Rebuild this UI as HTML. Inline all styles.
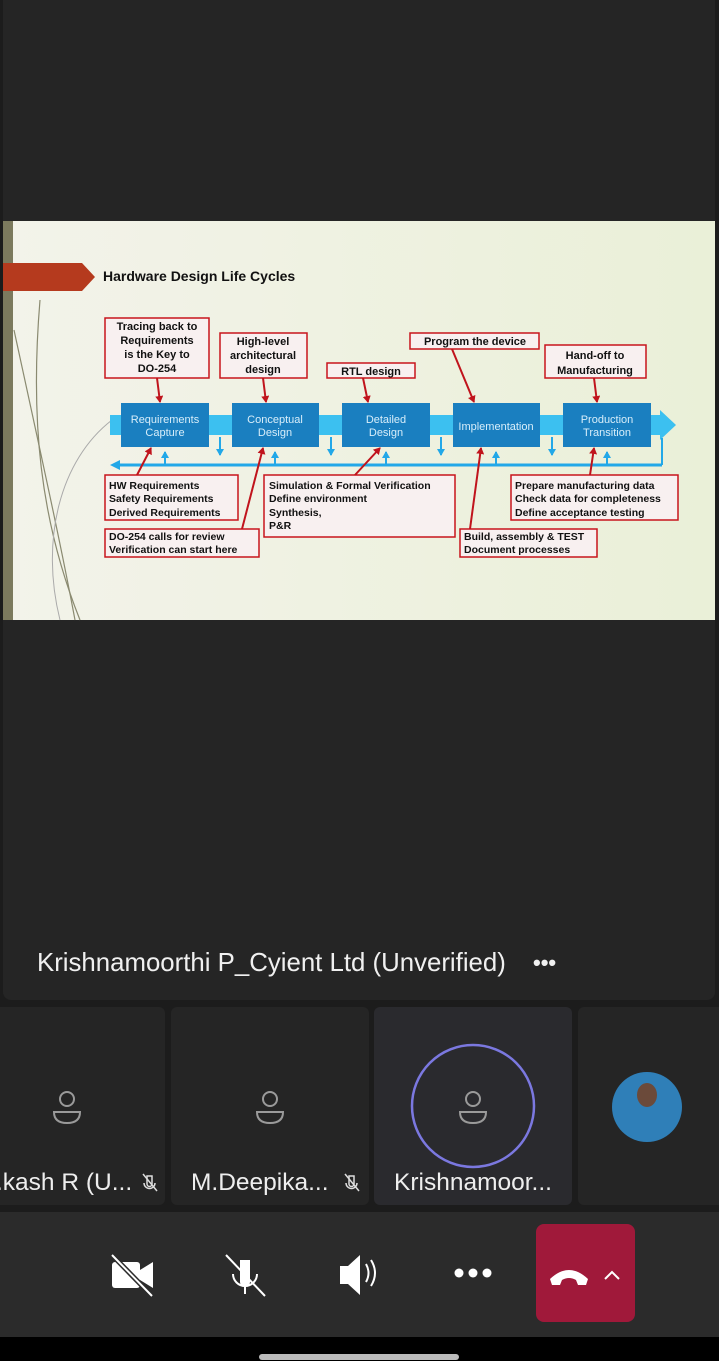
<!DOCTYPE html>
<html><head><meta charset="utf-8"><style>
*{margin:0;padding:0;box-sizing:border-box}
body{width:719px;height:1361px;background:#1c1c1c;position:relative;overflow:hidden;font-family:"Liberation Sans",sans-serif}
.a{position:absolute}
</style></head><body>
<div class="a" style="left:3px;top:0;width:712px;height:1000px;background:#252525;border-radius:0 0 8px 8px"></div>
<svg class="a" style="left:0;top:221px" width="719" height="400" viewBox="0 221 719 400" font-family="Liberation Sans, sans-serif">
<defs>
<linearGradient id="bg" x1="0" y1="0" x2="1" y2="0"><stop offset="0" stop-color="#f3f3ea"/><stop offset="1" stop-color="#eaf0d8"/></linearGradient>
<marker id="ra" markerWidth="8" markerHeight="8" refX="6" refY="4" orient="auto" markerUnits="userSpaceOnUse"><path d="M0,0 L7,4 L0,8 z" fill="#c0141c"/></marker>
<marker id="ba" markerWidth="8" markerHeight="8" refX="6" refY="4" orient="auto" markerUnits="userSpaceOnUse"><path d="M0,0 L7,4 L0,8 z" fill="#22a8e8"/></marker>
</defs>
<rect x="3" y="221" width="712" height="399" fill="url(#bg)"/>
<rect x="3" y="221" width="10" height="399" fill="#7c7a5e"/>
<path d="M40,300 C30,420 40,520 80,620" stroke="#8a8a70" stroke-width="1.2" fill="none"/>
<path d="M14,330 C40,450 60,540 75,620" stroke="#8a8a70" stroke-width="1.2" fill="none"/>
<path d="M112,420 C60,460 40,540 60,620" stroke="#aaa" stroke-width="1" fill="none"/>
<path d="M3,263 H82 L95,277 L82,291 H3 z" fill="#b53a1e"/>
<text x="103" y="281" font-size="14" font-weight="bold" fill="#111">Hardware Design Life Cycles</text>
<rect x="110" y="415" width="552" height="20" fill="#3cc0f0"/>
<path d="M660,410 L676,425 L660,440 z" fill="#3cc0f0"/>
<line x1="118" y1="465" x2="662" y2="465" stroke="#22a8e8" stroke-width="3"/>
<path d="M110,465 L120,460 L120,470 z" fill="#22a8e8"/>
<line x1="662" y1="438" x2="662" y2="465" stroke="#22a8e8" stroke-width="2"/>
<g stroke="#22a8e8" stroke-width="2" fill="none">
<line x1="220" y1="437" x2="220" y2="455" marker-end="url(#ba)"/>
<line x1="331" y1="437" x2="331" y2="455" marker-end="url(#ba)"/>
<line x1="441" y1="437" x2="441" y2="455" marker-end="url(#ba)"/>
<line x1="552" y1="437" x2="552" y2="455" marker-end="url(#ba)"/>
<line x1="165" y1="465" x2="165" y2="452" marker-end="url(#ba)"/>
<line x1="275" y1="465" x2="275" y2="452" marker-end="url(#ba)"/>
<line x1="386" y1="465" x2="386" y2="452" marker-end="url(#ba)"/>
<line x1="496" y1="465" x2="496" y2="452" marker-end="url(#ba)"/>
<line x1="607" y1="465" x2="607" y2="452" marker-end="url(#ba)"/>
</g>
<g fill="#1a7fc0">
<rect x="121" y="403" width="88" height="44"/><rect x="232" y="403" width="87" height="44"/><rect x="342" y="403" width="88" height="44"/><rect x="453" y="403" width="87" height="44"/><rect x="563" y="403" width="88" height="44"/>
</g>
<g fill="#d8eefa" font-size="11" text-anchor="middle">
<text x="165" y="423">Requirements</text><text x="165" y="436">Capture</text>
<text x="275" y="423">Conceptual</text><text x="275" y="436">Design</text>
<text x="386" y="423">Detailed</text><text x="386" y="436">Design</text>
<text x="496" y="430">Implementation</text>
<text x="607" y="423">Production</text><text x="607" y="436">Transition</text>
</g>
<g fill="#f8f0f0" stroke="#c8141c" stroke-width="1.5">
<rect x="105" y="318" width="104" height="60"/><rect x="220" y="333" width="87" height="45"/><rect x="327" y="363" width="88" height="15"/><rect x="410" y="333" width="129" height="16"/><rect x="545" y="345" width="101" height="33"/>
<rect x="105" y="475" width="133" height="45"/><rect x="105" y="529" width="154" height="28"/><rect x="264" y="475" width="191" height="62"/><rect x="511" y="475" width="167" height="45"/><rect x="460" y="529" width="137" height="28"/>
</g>
<g font-size="11" font-weight="bold" fill="#111" text-anchor="middle">
<text x="157" y="330">Tracing back to</text><text x="157" y="344">Requirements</text><text x="157" y="358">is the Key to</text><text x="157" y="372">DO-254</text>
<text x="263" y="345">High-level</text><text x="263" y="359">architectural</text><text x="263" y="373">design</text>
<text x="371" y="375">RTL design</text>
<text x="475" y="345">Program the device</text>
<text x="595" y="359">Hand-off to</text><text x="595" y="374">Manufacturing</text>
</g>
<g font-size="10.5" font-weight="bold" fill="#111">
<text x="109" y="489">HW Requirements</text><text x="109" y="502">Safety Requirements</text><text x="109" y="516">Derived Requirements</text>
<text x="109" y="540">DO-254 calls for review</text><text x="109" y="553">Verification can start here</text>
<text x="269" y="489">Simulation &amp; Formal Verification</text><text x="269" y="502">Define environment</text><text x="269" y="516">Synthesis,</text><text x="269" y="529">P&amp;R</text>
<text x="515" y="489">Prepare manufacturing data</text><text x="515" y="502">Check data for completeness</text><text x="515" y="516">Define acceptance testing</text>
<text x="464" y="540">Build, assembly &amp; TEST</text><text x="464" y="553">Document processes</text>
</g>
<g stroke="#c0141c" stroke-width="2" fill="none">
<line x1="157" y1="378" x2="160" y2="402" marker-end="url(#ra)"/>
<line x1="263" y1="378" x2="266" y2="402" marker-end="url(#ra)"/>
<line x1="363" y1="378" x2="368" y2="402" marker-end="url(#ra)"/>
<line x1="452" y1="349" x2="474" y2="402" marker-end="url(#ra)"/>
<line x1="594" y1="378" x2="597" y2="402" marker-end="url(#ra)"/>
<line x1="137" y1="475" x2="151" y2="448" marker-end="url(#ra)"/>
<line x1="242" y1="529" x2="263" y2="448" marker-end="url(#ra)"/>
<line x1="355" y1="475" x2="380" y2="448" marker-end="url(#ra)"/>
<line x1="470" y1="529" x2="481" y2="448" marker-end="url(#ra)"/>
<line x1="590" y1="475" x2="594" y2="448" marker-end="url(#ra)"/>
</g>
</svg>
<div class="a" style="left:37px;top:949px;color:#f0f0f0;font-size:25.8px;white-space:nowrap">Krishnamoorthi P_Cyient Ltd (Unverified)</div>
<div class="a" style="left:533px;top:950px;color:#f0f0f0;font-size:22px;font-weight:bold;letter-spacing:0px">•••</div>
<div class="a" style="left:0;top:1007px;width:165px;height:198px;background:#252525;border-radius:0 6px 6px 0"></div>
<div class="a" style="left:171px;top:1007px;width:198px;height:198px;background:#252525;border-radius:6px"></div>
<div class="a" style="left:374px;top:1007px;width:198px;height:198px;background:#2a2a2e;border-radius:6px"></div>
<div class="a" style="left:578px;top:1007px;width:141px;height:198px;background:#252525;border-radius:6px 0 0 6px"></div>
<svg class="a" style="left:0;top:1000px" width="719" height="210">
<g fill="none" stroke="#9a9a9a" stroke-width="2">
<circle cx="67" cy="99" r="7"/><path d="M54,112 H80 Q80,123 67,123 Q54,123 54,112z"/>
<circle cx="270" cy="99" r="7"/><path d="M257,112 H283 Q283,123 270,123 Q257,123 257,112z"/>
<circle cx="473" cy="99" r="7"/><path d="M460,112 H486 Q486,123 473,123 Q460,123 460,112z"/>
</g>
<circle cx="473" cy="106" r="61" fill="none" stroke="#7b78e0" stroke-width="2.5"/>
<ellipse cx="647" cy="107" rx="35" ry="35" fill="#2f7fb8"/>
<ellipse cx="647" cy="95" rx="10" ry="12" fill="#6b4a3a"/>
<g stroke="#ddd" stroke-width="1.5" fill="none">
<path d="M147,176 h5 v8 a2.5,2.5 0 0 1 -5,0z"/><path d="M144,183 a5.5,5.5 0 0 0 11,0"/><line x1="143" y1="174" x2="157" y2="191"/>
<path d="M349,176 h5 v8 a2.5,2.5 0 0 1 -5,0z"/><path d="M346,183 a5.5,5.5 0 0 0 11,0"/><line x1="345" y1="174" x2="359" y2="191"/>
</g>
</svg>
<div class="a" style="left:-4px;top:1169px;font-size:24.5px;color:#eee;white-space:nowrap">.kash R (U...</div>
<div class="a" style="left:191px;top:1169px;font-size:24.5px;color:#eee;white-space:nowrap">M.Deepika...</div>
<div class="a" style="left:394px;top:1169px;font-size:24.5px;color:#eee;white-space:nowrap">Krishnamoor...</div>
<div class="a" style="left:0;top:1212px;width:719px;height:125px;background:#2b2b2b"></div>
<svg class="a" style="left:0;top:1212px" width="719" height="125">
<g fill="#fff">
<rect x="112" y="50" width="28" height="26" rx="3"/><path d="M140,58 L153,50 V76 L140,68z"/>
<path d="M240,48 h10 v22 a5,5 0 0 1 -10,0z"/>
<path d="M340,54 h8 l12,-11 v40 l-12,-11 h-8z"/>
<circle cx="459" cy="61" r="4.5"/><circle cx="473" cy="61" r="4.5"/><circle cx="487" cy="61" r="4.5"/>
</g>
<line x1="112" y1="43" x2="152" y2="84" stroke="#2b2b2b" stroke-width="5"/><line x1="112" y1="43" x2="152" y2="84" stroke="#fff" stroke-width="2"/>
<g stroke="#fff" stroke-width="2" fill="none"><path d="M233,62 a12,12 0 0 0 24,0"/><line x1="245" y1="74" x2="245" y2="82"/><line x1="226" y1="43" x2="265" y2="84"/><path d="M366,52 q5,9 0,18"/><path d="M371,48 q8,13 0,26"/></g>
<rect x="536" y="12" width="99" height="98" rx="8" fill="#a0193a"/>
<path d="M550,67 q19,-18 38,0 l-2,6 h-8 l-2,-5 q-7,-4 -14,0 l-2,5 h-8z" fill="#fff"/>
<path d="M605,67 l7,-7 l7,7" stroke="#fff" stroke-width="2" fill="none"/>
</svg>
<div class="a" style="left:0;top:1337px;width:719px;height:24px;background:#000"></div>
<div class="a" style="left:259px;top:1354px;width:200px;height:6px;border-radius:3px;background:#bbb"></div>
</body></html>
